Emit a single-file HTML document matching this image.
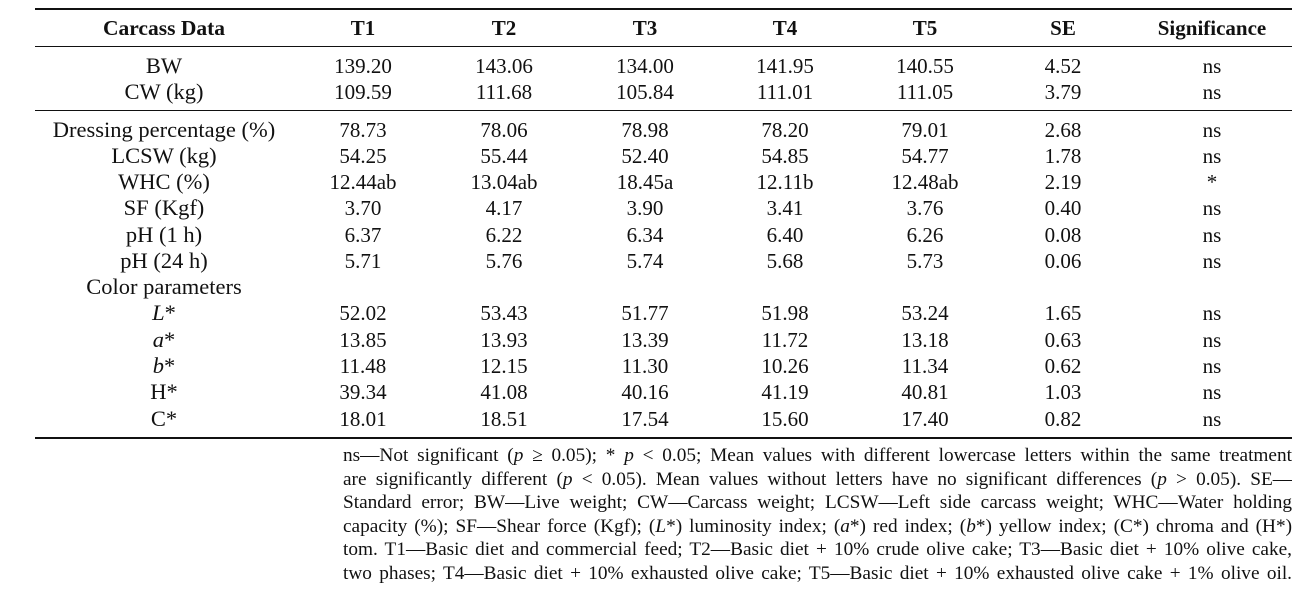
<!DOCTYPE html>
<html><head><meta charset="utf-8"><style>
body{margin:0;width:1300px;height:590px;background:#fff;position:relative;overflow:hidden;font-family:"Liberation Serif",serif;color:#111}
.r{position:absolute;left:0;width:1300px;height:26px;font-size:21px;line-height:26px}
.r span{position:absolute;width:300px;margin-left:-150px;text-align:center;white-space:nowrap}
.r span.c0{font-size:22.5px}
.h{font-weight:bold}
.h span.c0{font-size:21.5px}
.ln{position:absolute;left:35px;width:1257px;background:#111}
.fn{position:absolute;left:343px;width:949px;font-size:19.3px;line-height:23.5px;text-align:justify;text-align-last:justify}
.fn div{white-space:normal;height:23.5px;overflow:hidden}
</style></head><body>
<div class="ln" style="top:8px;height:2px"></div>
<div class="ln" style="top:46px;height:1px"></div>
<div class="ln" style="top:110px;height:1px"></div>
<div class="ln" style="top:437px;height:2px"></div>
<div id="rows"></div>
<script>
var cx=[164,363,504,645,785,925,1063,1212];
var rows=[
[15,true,["Carcass Data","T1","T2","T3","T4","T5","SE","Significance"]],
[53,0,["BW","139.20","143.06","134.00","141.95","140.55","4.52","ns"]],
[79,0,["CW (kg)","109.59","111.68","105.84","111.01","111.05","3.79","ns"]],
[117,0,["Dressing percentage (%)","78.73","78.06","78.98","78.20","79.01","2.68","ns"]],
[143,0,["LCSW (kg)","54.25","55.44","52.40","54.85","54.77","1.78","ns"]],
[169,0,["WHC (%)","12.44ab","13.04ab","18.45a","12.11b","12.48ab","2.19","*"]],
[195,0,["SF (Kgf)","3.70","4.17","3.90","3.41","3.76","0.40","ns"]],
[222,0,["pH (1 h)","6.37","6.22","6.34","6.40","6.26","0.08","ns"]],
[248,0,["pH (24 h)","5.71","5.76","5.74","5.68","5.73","0.06","ns"]],
[274,0,["Color parameters"]],
[300,0,["<i>L</i>*","52.02","53.43","51.77","51.98","53.24","1.65","ns"]],
[327,0,["<i>a</i>*","13.85","13.93","13.39","11.72","13.18","0.63","ns"]],
[353,0,["<i>b</i>*","11.48","12.15","11.30","10.26","11.34","0.62","ns"]],
[379,0,["H*","39.34","41.08","40.16","41.19","40.81","1.03","ns"]],
[406,0,["C*","18.01","18.51","17.54","15.60","17.40","0.82","ns"]]];
var h="";
rows.forEach(function(r){h+='<div class="r'+(r[1]?' h':'')+'" style="top:'+r[0]+'px">';
r[2].forEach(function(t,i){h+='<span class="c'+i+'" style="left:'+cx[i]+'px">'+t+'</span>';});h+='</div>';});
document.getElementById('rows').innerHTML=h;
</script>
<div class="fn" style="top:444px">
<div>ns—Not significant (<i>p</i> ≥ 0.05); * <i>p</i> &lt; 0.05; Mean values with different lowercase letters within the same treatment</div>
<div>are significantly different (<i>p</i> &lt; 0.05). Mean values without letters have no significant differences (<i>p</i> &gt; 0.05). SE—</div>
<div>Standard error; BW—Live weight; CW—Carcass weight; LCSW—Left side carcass weight; WHC—Water holding</div>
<div>capacity (%); SF—Shear force (Kgf); (<i>L</i>*) luminosity index; (<i>a</i>*) red index; (<i>b</i>*) yellow index; (C*) chroma and (H*)</div>
<div>tom. T1—Basic diet and commercial feed; T2—Basic diet + 10% crude olive cake; T3—Basic diet + 10% olive cake,</div>
<div>two phases; T4—Basic diet + 10% exhausted olive cake; T5—Basic diet + 10% exhausted olive cake + 1% olive oil.</div>
</div>
</body></html>
